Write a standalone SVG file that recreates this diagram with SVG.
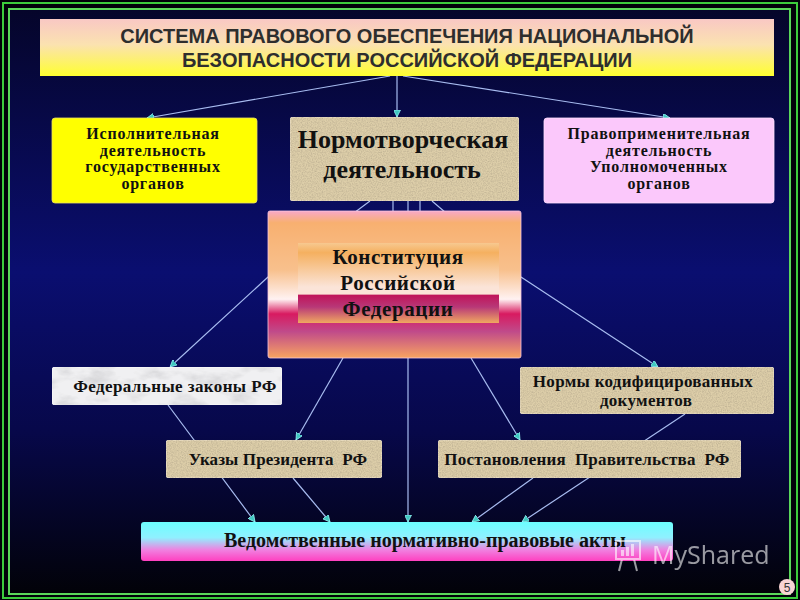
<svg xmlns="http://www.w3.org/2000/svg" width="800" height="600" viewBox="0 0 800 600">
<defs>
  <linearGradient id="bg" x1="0" y1="0" x2="0" y2="1">
    <stop offset="0" stop-color="#05052a"/>
    <stop offset="0.45" stop-color="#0a0e70"/>
    <stop offset="0.72" stop-color="#07084a"/>
    <stop offset="1" stop-color="#020208"/>
  </linearGradient>
  <linearGradient id="gTitle" x1="0" y1="0" x2="0" y2="1">
    <stop offset="0" stop-color="#f9c8c4"/>
    <stop offset="0.45" stop-color="#fbe2b0"/>
    <stop offset="1" stop-color="#ffff30"/>
  </linearGradient>
  <linearGradient id="gOuter" x1="0" y1="0" x2="0" y2="1">
    <stop offset="0" stop-color="#f8a8c8"/>
    <stop offset="0.08" stop-color="#f8b070"/>
    <stop offset="0.4" stop-color="#f8c08c"/>
    <stop offset="0.6" stop-color="#fff2f2"/>
    <stop offset="0.7" stop-color="#d81a60"/>
    <stop offset="0.82" stop-color="#c04a8a"/>
    <stop offset="1" stop-color="#f8a460"/>
  </linearGradient>
  <linearGradient id="gInner" x1="0" y1="0" x2="0" y2="1">
    <stop offset="0" stop-color="#f7c890"/>
    <stop offset="0.12" stop-color="#f5b060"/>
    <stop offset="0.55" stop-color="#fbe4d8"/>
    <stop offset="0.64" stop-color="#fbe4d8"/>
    <stop offset="0.65" stop-color="#c0145a"/>
    <stop offset="0.8" stop-color="#b83878"/>
    <stop offset="1" stop-color="#f0a860"/>
  </linearGradient>
  <linearGradient id="gVed" x1="0" y1="0" x2="0" y2="1">
    <stop offset="0" stop-color="#6cffff"/>
    <stop offset="0.4" stop-color="#90f0ff"/>
    <stop offset="0.72" stop-color="#f080e0"/>
    <stop offset="1" stop-color="#ff40c0"/>
  </linearGradient>
  <filter id="linen" x="0" y="0" width="1" height="1">
    <feTurbulence type="fractalNoise" baseFrequency="0.8" numOctaves="2" seed="3" result="n"/>
    <feColorMatrix in="n" type="matrix" values="0 0 0 0 0.45  0 0 0 0 0.38  0 0 0 0 0.26  0 0 0 -1.3 0.85" result="c"/>
    <feComposite in="c" in2="SourceGraphic" operator="in" result="m"/>
    <feMerge><feMergeNode in="SourceGraphic"/><feMergeNode in="m"/></feMerge>
  </filter>
  <filter id="marble" x="0" y="0" width="1" height="1">
    <feTurbulence type="fractalNoise" baseFrequency="0.035 0.07" numOctaves="4" seed="7" result="n"/>
    <feColorMatrix in="n" type="matrix" values="0 0 0 0 0.55  0 0 0 0 0.55  0 0 0 0 0.57  1.6 0 0 0 -0.75" result="c"/>
    <feComposite in="c" in2="SourceGraphic" operator="in" result="m"/>
    <feMerge><feMergeNode in="SourceGraphic"/><feMergeNode in="m"/></feMerge>
  </filter>
  <marker id="arr" viewBox="0 0 10 10" refX="10" refY="5" markerWidth="7" markerHeight="7" markerUnits="userSpaceOnUse" orient="auto">
    <path d="M0,0 L10,5 L0,10 z" fill="#40c8c0" stroke="#a0ffff" stroke-width="1"/>
  </marker>
  <style>
    .ln { stroke: #a8bcf0; stroke-width: 1.2; fill: none; }
    .la { stroke: #a8bcf0; stroke-width: 1.2; fill: none; marker-end: url(#arr); }
    .t { font-family: "Liberation Serif", "Times New Roman", serif; font-weight: bold; fill: #111; text-anchor: middle; }
    .tt { font-family: "Liberation Sans", Arial, sans-serif; font-weight: bold; font-size: 20px; fill: #2e2e2e; text-anchor: middle; }
    .tan { fill: #ddcea9; }
    .box { stroke: #f4ead8; stroke-width: 0.8; }
  </style>
</defs>

<!-- background and frame -->
<rect x="0" y="0" width="800" height="600" fill="#02020a"/>
<rect x="9" y="9" width="781" height="585" fill="url(#bg)"/>
<rect x="3" y="3" width="794" height="595" fill="none" stroke="#3ccc3c" stroke-width="2"/>
<rect x="9" y="9" width="781" height="585" fill="none" stroke="#5ad85a" stroke-width="2"/>

<!-- connectors -->
<g id="connectors">
  <line class="la" x1="390" y1="76" x2="147" y2="118"/>
  <line class="la" x1="397" y1="76" x2="397" y2="117"/>
  <line class="la" x1="403" y1="76" x2="670" y2="118"/>
  <path class="la" d="M370,201 L268,277 L170,367"/>
  <line class="ln" x1="393" y1="201" x2="393" y2="212"/>
  <line class="la" x1="408" y1="201" x2="408" y2="522"/>
  <line class="ln" x1="420" y1="201" x2="420" y2="212"/>
  <path class="la" d="M432,201 L521,277 L658,367"/>
  <line class="la" x1="343" y1="358" x2="296" y2="440"/>
  <line class="la" x1="471" y1="358" x2="520" y2="440"/>
  <line class="la" x1="168" y1="405" x2="255" y2="522"/>
  <line class="la" x1="293" y1="478" x2="330" y2="522"/>
  <line class="la" x1="685" y1="414" x2="522" y2="522"/>
  <line class="la" x1="533" y1="478" x2="472" y2="522"/>
</g>

<g id="title">
  <rect x="40" y="19" width="734" height="57" fill="url(#gTitle)"/>
  <text class="tt" x="407" y="43">СИСТЕМА ПРАВОВОГО ОБЕСПЕЧЕНИЯ НАЦИОНАЛЬНОЙ</text>
  <text class="tt" x="407" y="67">БЕЗОПАСНОСТИ РОССИЙСКОЙ ФЕДЕРАЦИИ</text>
</g>

<g id="ispoln">
  <rect x="52" y="118" width="205" height="85" rx="3" fill="#ffff00" stroke="#e8e060" stroke-width="0.8"/>
  <text class="t" font-size="16" letter-spacing="0.8" x="153" y="139">Исполнительная</text>
  <text class="t" font-size="16" letter-spacing="0.8" x="153" y="155.5">деятельность</text>
  <text class="t" font-size="16" letter-spacing="0.8" x="153" y="172">государственных</text>
  <text class="t" font-size="16" letter-spacing="0.8" x="153" y="188.5">органов</text>
</g>

<g id="normotv">
  <rect class="tan box" x="290" y="117" width="229" height="84" rx="3" filter="url(#linen)"/>
  <text class="t" font-size="26" x="403" y="148">Нормотворческая</text>
  <text class="t" font-size="26" x="402" y="178">деятельность</text>
</g>

<g id="pravoprim">
  <rect x="544" y="118" width="230" height="85" rx="3" fill="#fbc8fb" stroke="#ffe0ff" stroke-width="0.8"/>
  <text class="t" font-size="16" letter-spacing="0.8" x="659" y="139">Правоприменительная</text>
  <text class="t" font-size="16" letter-spacing="0.8" x="659" y="155.5">деятельность</text>
  <text class="t" font-size="16" letter-spacing="0.8" x="659" y="172">Уполномоченных</text>
  <text class="t" font-size="16" letter-spacing="0.8" x="659" y="188.5">органов</text>
</g>

<g id="konstitucia">
  <rect x="268" y="211" width="253" height="147" rx="2" fill="url(#gOuter)" stroke="#f8c8e0" stroke-width="0.8"/>
  <rect x="298" y="243" width="201" height="80" fill="url(#gInner)"/>
  <text class="t" font-size="21" letter-spacing="0.6" x="398" y="264">Конституция</text>
  <text class="t" font-size="21" letter-spacing="0.6" x="398" y="290">Российской</text>
  <text class="t" font-size="21" letter-spacing="0.6" x="398" y="316">Федерации</text>
</g>

<g id="federal">
  <rect x="52" y="367" width="230" height="38" rx="3" fill="#f0f0f2" stroke="#ffffff" stroke-width="0.8" filter="url(#marble)"/>
  <text class="t" font-size="17" letter-spacing="0.4" x="175" y="392">Федеральные законы РФ</text>
</g>

<g id="ukazy">
  <rect class="tan box" x="166" y="440" width="216" height="38" rx="3" filter="url(#linen)"/>
  <text class="t" font-size="17" letter-spacing="0.1" x="278" y="465" xml:space="preserve">Указы Президента  РФ</text>
</g>

<g id="normy">
  <rect class="tan box" x="520" y="367" width="254" height="47" rx="3" filter="url(#linen)"/>
  <text class="t" font-size="17" letter-spacing="0.3" x="643" y="387">Нормы кодифицированных</text>
  <text class="t" font-size="17" letter-spacing="0.3" x="646" y="406">документов</text>
</g>

<g id="postanovl">
  <rect class="tan box" x="438" y="440" width="303" height="38" rx="3" filter="url(#linen)"/>
  <text class="t" font-size="17" letter-spacing="0.2" x="587" y="465" xml:space="preserve">Постановления  Правительства  РФ</text>
</g>

<g id="vedomstv">
  <rect x="141" y="522" width="532" height="39" rx="3" fill="url(#gVed)"/>
  <text class="t" font-size="20" x="425" y="547">Ведомственные нормативно-правовые акты</text>
</g>

<g id="watermark" opacity="0.6">
  <g fill="none" stroke="#ffffff" stroke-width="2">
    <rect x="616" y="541" width="24" height="18"/>
    <line x1="622" y1="559" x2="619" y2="571"/>
    <line x1="634" y1="559" x2="637" y2="571"/>
  </g>
  <g fill="#ffffff">
    <rect x="621" y="550" width="3" height="6"/>
    <rect x="626" y="547" width="3" height="9"/>
    <rect x="631" y="544" width="3" height="12"/>
  </g>
  <text x="652" y="564" font-family="'Open Sans', 'DejaVu Sans', sans-serif" font-size="25" fill="#ffffff">MyShared</text>
</g>

<g id="pagenum">
  <circle cx="787" cy="587" r="8" fill="#f8d4d4"/>
  <text x="787" y="591.5" font-family="'Liberation Sans', Arial, sans-serif" font-size="12" fill="#333" text-anchor="middle">5</text>
</g>
</svg>
